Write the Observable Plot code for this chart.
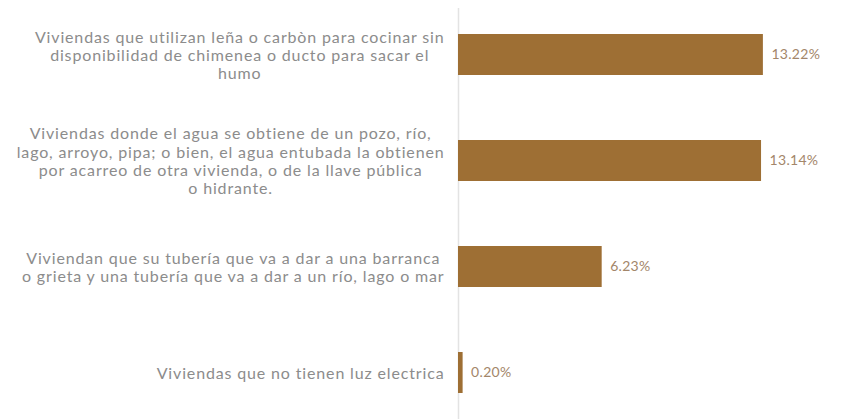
<!DOCTYPE html>
<html>
<head>
<meta charset="utf-8">
<script src="https://cdn.jsdelivr.net/npm/d3@7"></script>
<script src="https://cdn.jsdelivr.net/npm/@observablehq/plot@0.6"></script>
<style>
  html, body { margin: 0; padding: 0; background: #ffffff; }
  #chart svg { display: block; }
  .cat-labels text { letter-spacing: 0.85px; }
  .val-labels text { letter-spacing: 0.3px; }
</style>
</head>
<body>
<div id="chart"></div>
<script>
const categories = [
  "Viviendas que utilizan leña o carbòn para cocinar sin\ndisponibilidad de chimenea o ducto para sacar el\nhumo",
  "Viviendas donde el agua se obtiene de un pozo, río,\nlago, arroyo, pipa; o bien, el agua entubada la obtienen\npor acarreo de otra vivienda, o de la llave pública\no hidrante.",
  "Viviendan que su tubería que va a dar a una barranca\no grieta y una tubería que va a dar a un río, lago o mar",
  "Viviendas que no tienen luz electrica"
];
const values = [13.22, 13.14, 6.23, 0.20];
const valueLabels = ["13.22%", "13.14%", "6.23%", "0.20%"];

const data = categories.map((c, i) => ({category: c, value: values[i], label: valueLabels[i]}));

const FONT = "Lato, 'Open Sans', sans-serif";

const chart = Plot.plot({
  width: 844,
  height: 419,
  marginLeft: 458,
  marginRight: 17,
  marginTop: 32,
  marginBottom: 25,
  style: {fontFamily: FONT, background: "#ffffff"},
  x: {domain: [0, 16], axis: null},
  y: {domain: categories, paddingInner: 0.616, paddingOuter: 0, axis: null},
  marks: [
    Plot.ruleX([0], {stroke: "#e3e3e3", strokeWidth: 1.5, insetTop: -24, insetBottom: -25}),
    Plot.barX(data, {x: "value", y: "category", fill: "#9e6f34"}),
    Plot.text(data, {
      x: "value", y: "category", text: "label",
      textAnchor: "start", dx: 8, fill: "#a3866a",
      fontSize: 14, className: "val-labels"
    }),
    Plot.text(data, {
      x: 0, y: "category", text: "category",
      textAnchor: "end", dx: -14, fill: "#8c8c8c",
      fontSize: 16, lineHeight: 1.15,
      className: "cat-labels"
    })
  ]
});

document.getElementById("chart").appendChild(chart);

// center each line of a label within its own block, block right-aligned
chart.querySelectorAll(".cat-labels text").forEach(t => {
  const spans = t.querySelectorAll("tspan");
  if (!spans.length) {
    return;
  }
  let maxW = 0;
  spans.forEach(s => { maxW = Math.max(maxW, s.getComputedTextLength()); });
  t.setAttribute("text-anchor", "middle");
  spans.forEach(s => s.setAttribute("x", -maxW / 2));
});
</script>
</body>
</html>
